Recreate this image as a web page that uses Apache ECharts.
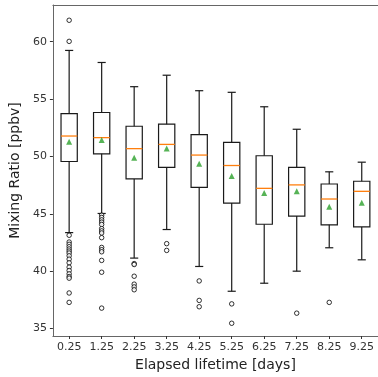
<!DOCTYPE html>
<html lang="en">
<head>
<meta charset="UTF-8">
<title>Mixing ratio boxplot</title>
<script src="https://cdn.jsdelivr.net/npm/echarts@6/dist/echarts.min.js"></script>
</head>
<body style="margin:0">
<div id="chart" style="width:378px;height:377px"></div>
<script>
// categories (elapsed lifetime, days)
var days = ['0.25', '1.25', '2.25', '3.25', '4.25', '5.25', '6.25', '7.25', '8.25', '9.25'];

// box statistics
var whiskerLow  = [43.36, 45.03, 41.14, 43.63, 40.41, 38.25, 38.95, 40.00, 42.04, 40.99];
var q1          = [49.56, 50.23, 48.04, 49.04, 47.31, 45.94, 44.09, 44.80, 44.04, 43.86];
var medians     = [51.78, 51.64, 50.68, 51.05, 50.12, 49.21, 47.22, 47.52, 46.29, 46.96];
var q3          = [53.74, 53.83, 52.63, 52.81, 51.90, 51.23, 50.06, 49.04, 47.60, 47.84];
var whiskerHigh = [59.24, 58.19, 56.08, 57.08, 55.73, 55.59, 54.33, 52.37, 48.66, 49.50];
var means       = [51.29, 51.43, 49.89, 50.70, 49.36, 48.30, 46.81, 46.96, 45.61, 45.96];

// fliers per category
var fliers = [
    [61.87, 60.03, 43.13, 42.54, 42.34, 42.13, 41.93, 41.75, 41.58, 41.34, 41.05, 40.73, 40.35, 40.06, 39.77, 39.53, 39.39, 38.10, 37.28],
    [44.88, 44.68, 44.47, 44.27, 44.07, 43.71, 43.51, 43.33, 42.92, 42.07, 41.87, 41.69, 40.94, 39.91, 36.78],
    [40.66, 40.58, 39.56, 38.87, 38.63, 38.38],
    [42.40, 41.81],
    [39.15, 37.45, 36.90],
    [37.15, 35.46],
    [],
    [36.34],
    [37.28],
    []
];

var yTicks = [35, 40, 45, 50, 55, 60];

var boxData = days.map(function (d, i) {
    return [i, whiskerLow[i], q1[i], medians[i], q3[i], whiskerHigh[i]];
});
var meanData = means.map(function (v, i) { return [i, v]; });
var flierData = [];
fliers.forEach(function (list, i) {
    list.forEach(function (v) { flierData.push([i, v]); });
});

var lineCol = '#1a1a1a';
var font = 'DejaVu Sans';

function renderBox(params, api) {
    var x = api.value(0);
    var bw = api.size([1, 0])[0];
    var half = bw * 0.25;   // box width 0.5 of band
    var cap = bw * 0.125;   // whisker caps half as wide as box
    var pLow = api.coord([x, api.value(1)]);
    var pQ1 = api.coord([x, api.value(2)]);
    var pMed = api.coord([x, api.value(3)]);
    var pQ3 = api.coord([x, api.value(4)]);
    var pHigh = api.coord([x, api.value(5)]);
    var cx = pQ1[0];
    var st = { stroke: lineCol, lineWidth: 1.2, fill: null };
    return {
        type: 'group',
        children: [
            { type: 'line', shape: { x1: cx, y1: pQ1[1], x2: cx, y2: pLow[1] }, style: st },
            { type: 'line', shape: { x1: cx, y1: pQ3[1], x2: cx, y2: pHigh[1] }, style: st },
            { type: 'line', shape: { x1: cx - cap, y1: pLow[1], x2: cx + cap, y2: pLow[1] }, style: st },
            { type: 'line', shape: { x1: cx - cap, y1: pHigh[1], x2: cx + cap, y2: pHigh[1] }, style: st },
            { type: 'rect', shape: { x: cx - half, y: pQ3[1], width: half * 2, height: pQ1[1] - pQ3[1] }, style: { stroke: lineCol, lineWidth: 1.2, fill: 'rgba(0,0,0,0)' } },
            { type: 'line', shape: { x1: cx - half, y1: pMed[1], x2: cx + half, y2: pMed[1] }, style: { stroke: '#ff7f0e', lineWidth: 1.3 } }
        ]
    };
}

var chart = echarts.init(document.getElementById('chart'));

var option = {
    animation: false,
    textStyle: { fontFamily: font },
    grid: { left: 46, top: 5, width: 334, height: 331 },
    xAxis: [{
        type: 'category',
        data: days,
        boundaryGap: true,
        name: 'Elapsed lifetime [days]',
        nameLocation: 'middle',
        nameGap: 19,
        nameTextStyle: { fontSize: 14, color: '#222', fontFamily: font },
        axisLine: { show: true, lineStyle: { color: '#666', width: 1 } },
        axisTick: { show: true, alignWithLabel: true, length: 3, lineStyle: { color: '#333' } },
        axisLabel: { fontSize: 11, color: '#333', margin: 6, fontFamily: font },
        splitLine: { show: false }
    }, {
        // top spine only
        type: 'category',
        data: days,
        position: 'top',
        axisLine: { show: true, lineStyle: { color: '#666', width: 1 } },
        axisTick: { show: false },
        axisLabel: { show: false },
        splitLine: { show: false }
    }],
    yAxis: {
        type: 'value',
        min: 34.35,
        max: 63.2,
        name: 'Mixing Ratio [ppbv]',
        nameLocation: 'middle',
        nameRotate: 90,
        nameGap: 23,
        nameTextStyle: { fontSize: 14, color: '#222', fontFamily: font },
        axisLine: { show: true, lineStyle: { color: '#666', width: 1 } },
        axisTick: { show: true, length: 3, customValues: yTicks, lineStyle: { color: '#333' } },
        axisLabel: { fontSize: 11, color: '#333', margin: 6, customValues: yTicks, fontFamily: font },
        splitLine: { show: false }
    },
    series: [
        {
            type: 'custom',
            renderItem: renderBox,
            encode: { x: 0, y: [1, 2, 3, 4, 5] },
            data: boxData,
            z: 2
        },
        {
            type: 'scatter',
            data: flierData,
            symbol: 'circle',
            symbolSize: 4.5,
            itemStyle: { color: '#fff', borderColor: '#000', borderWidth: 1 },
            z: 3
        },
        {
            type: 'scatter',
            data: meanData,
            symbol: 'triangle',
            symbolSize: 6,
            itemStyle: { color: '#2ca02c' },
            z: 4
        }
    ]
};

chart.setOption(option);
</script>
</body>
</html>
